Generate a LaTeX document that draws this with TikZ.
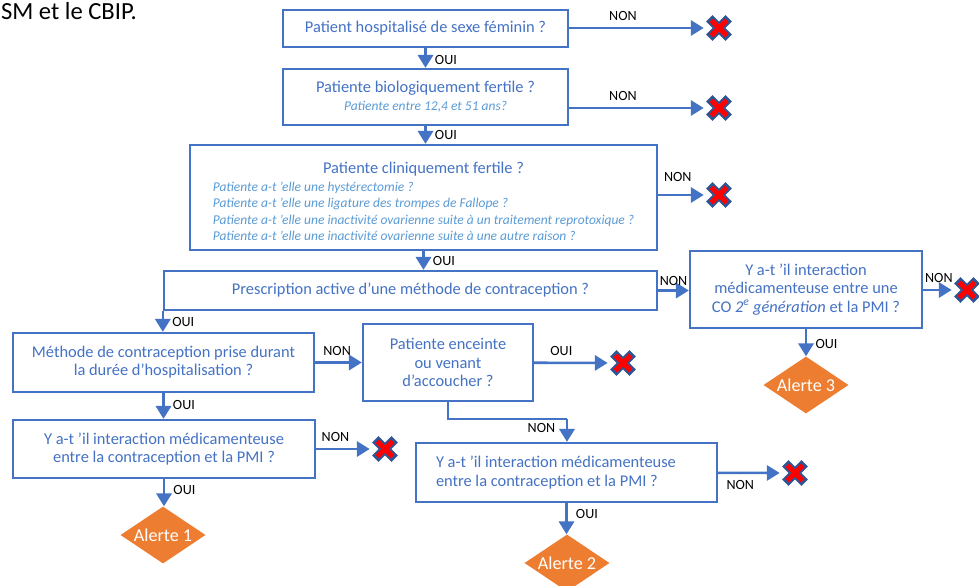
\documentclass[tikz,border=0pt]{standalone}
\usepackage{fontspec}
\setmainfont{Carlito}
\usetikzlibrary{arrows.meta,shapes.geometric}

\definecolor{boxblue}{HTML}{4472C4}
\definecolor{subblue}{HTML}{5B9BD5}
\definecolor{alertorange}{HTML}{ED7D31}
\definecolor{crossred}{HTML}{FF0000}
\definecolor{crossedge}{HTML}{2F5597}

\newcommand{\subtxt}{\fontsize{11.5}{14}\selectfont\itshape\color{subblue}}

\tikzset{
  qbox/.style={draw=boxblue, line width=2pt, rectangle, align=center, inner sep=0pt,
    text=boxblue, font=\fontsize{14}{15.5}\selectfont},
  flow/.style={draw=boxblue, line width=2.2pt, -{Triangle[length=11pt,width=13pt]}},
  linkline/.style={draw=boxblue, line width=1.1pt},
  lbl/.style={font=\fontsize{12}{14}\selectfont, text=black, inner sep=1pt},
  alerte/.style={diamond, fill=alertorange, text=white, inner sep=0pt, shape aspect=1.5,
    minimum width=2.55cm, minimum height=1.71cm, font=\fontsize{15.5}{18}\selectfont},
  nogo/.style={minimum size=0.78cm, inner sep=0pt, outer sep=2pt,
    path picture={
      \draw[crossedge, line width=2.7mm]
        ([shift={(1mm,1mm)}]path picture bounding box.south west) -- ([shift={(-1mm,-1mm)}]path picture bounding box.north east)
        ([shift={(1mm,-1mm)}]path picture bounding box.north west) -- ([shift={(-1mm,1mm)}]path picture bounding box.south east);
      \draw[crossred, line width=1.5mm]
        ([shift={(1.6mm,1.6mm)}]path picture bounding box.south west) -- ([shift={(-1.6mm,-1.6mm)}]path picture bounding box.north east)
        ([shift={(1.6mm,-1.6mm)}]path picture bounding box.north west) -- ([shift={(-1.6mm,1.6mm)}]path picture bounding box.south east);
    }}
}

\begin{document}
\begin{tikzpicture}[x=0.03cm, y=-0.03cm]

\path[use as bounding box, fill=white] (0,0) rectangle (979,585);

\node[anchor=base east, font=\fontsize{21}{24}\selectfont] (cbip) at (141,19) {SM et le CBIP.};

% questions
\node[qbox, minimum width=8.55cm, minimum height=1.11cm] (fem) at (425.5,28.5) {Patient hospitalisé de sexe féminin ?};
\node[qbox, minimum width=8.55cm, minimum height=1.68cm] (bio) at (425.5,97) {Patiente biologiquement fertile ?\\ {\subtxt Patiente entre 12,4 et 51 ans?}};
\node[qbox, minimum width=14.01cm, minimum height=3.15cm] (clin) at (423.5,197.5) {\rule{0pt}{20pt}Patiente cliniquement fertile ?\\
  {\subtxt\begin{tabular}[t]{@{}l@{}}
  Patiente a-t ’elle une hystérectomie ?\\
  Patiente a-t ’elle une ligature des trompes de Fallope ?\\
  Patiente a-t ’elle une inactivité ovarienne suite à un traitement reprotoxique ?\\
  Patiente a-t ’elle une inactivité ovarienne suite à une autre raison ?
  \end{tabular}}};
\node[qbox, minimum width=14.79cm, minimum height=1.17cm] (presc) at (410.5,290.5) {Prescription active d’une méthode de contraception ?};
\node[qbox, minimum width=6.96cm, minimum height=2.31cm] (coint) at (806,289.5) {Y a-t ’il interaction\\ médicamenteuse entre une\\ CO \textit{2\textsuperscript{e} génération} et la PMI ?};
\node[qbox, minimum width=9.03cm, minimum height=1.77cm] (meth) at (163.5,362.5) {Méthode de contraception prise durant\\ la durée d’hospitalisation ?};
\node[qbox, minimum width=5.1cm, minimum height=2.31cm] (preg) at (448,362.5) {Patiente enceinte\\ ou venant\\ d’accoucher ?};
\node[qbox, minimum width=9.06cm, minimum height=1.74cm] (intA) at (164,449) {Y a-t ’il interaction médicamenteuse\\ entre la contraception et la PMI ?};
\node[qbox, align=flush left, text width=7.83cm, inner xsep=0.6cm, minimum height=1.77cm] (intB) at (566.5,472.5) {Y a-t ’il interaction médicamenteuse\\ entre la contraception et la PMI ?};

% alerts
\node[alerte] (al1) at (163,535) {Alerte 1};
\node[alerte] (al2) at (567,563) {Alerte 2};
\node[alerte] (al3) at (806,385) {Alerte 3};

% stops
\node[nogo] (x1) at (719,28) {};
\node[nogo] (x2) at (719,108) {};
\node[nogo] (x3) at (719,195) {};
\node[nogo] (x4) at (967,290) {};
\node[nogo] (x5) at (623,363) {};
\node[nogo] (x6) at (385,449) {};
\node[nogo] (x7) at (795,473) {};

\coordinate (bend) at (567,419);

% NON branches
\draw[flow] (fem.east |- x1) -- (x1) node[lbl, pos=.4, above=4pt] {NON};
\draw[flow] (bio.east |- x2) -- (x2) node[lbl, pos=.4, above=4pt] {NON};
\draw[flow] (clin.east |- x3) -- (x3) node[lbl, pos=.43, above=9pt] {NON};
\draw[flow] (presc.east) -- (presc.east -| coint.west) node[lbl, pos=.5, above=2pt] {NON};
\draw[flow] (coint.east |- x4) -- (x4) node[lbl, pos=.55, above=4pt] {NON};
\draw[flow] (meth) -- (preg) node[lbl, pos=.47, above=4pt] {NON};
\draw[flow] (intA) -- (x6) node[lbl, pos=.36, above=4pt] {NON};
\draw[flow] (intB) -- (x7) node[lbl, pos=.36, below=4pt] {NON};
\draw[linkline] (preg.south) |- (bend);
\draw[flow] (bend) -- (bend |- intB.north) node[lbl, pos=.4, left=8pt] {NON};
\draw[flow] (preg) -- (x5) node[lbl, pos=.37, above=4pt] {OUI};

% OUI branches
\draw[flow] (fem) -- (bio) node[lbl, pos=.6, right=6pt] {OUI};
\draw[flow] (bio.south) -- (bio.south |- clin.north) node[lbl, pos=.5, right=6pt] {OUI};
\draw[flow] (clin.south) -- (clin.south |- presc.north) node[lbl, pos=.55, right=6pt] {OUI};
\draw[flow] (presc.south west) -- (presc.south west |- meth.north) node[lbl, pos=.5, right=6pt] {OUI};
\draw[flow] (meth.south) -- (meth.south |- intA.north) node[lbl, pos=.45, right=6pt] {OUI};
\draw[flow] (intA.south) -- (intA.south |- al1.north) node[lbl, pos=.4, right=6pt] {OUI};
\draw[flow] (coint) -- (al3) node[lbl, pos=.55, right=6pt] {OUI};
\draw[flow] (intB.south) -- (intB.south |- al2.north) node[lbl, pos=.35, right=6pt] {OUI};

\end{tikzpicture}
\end{document}
